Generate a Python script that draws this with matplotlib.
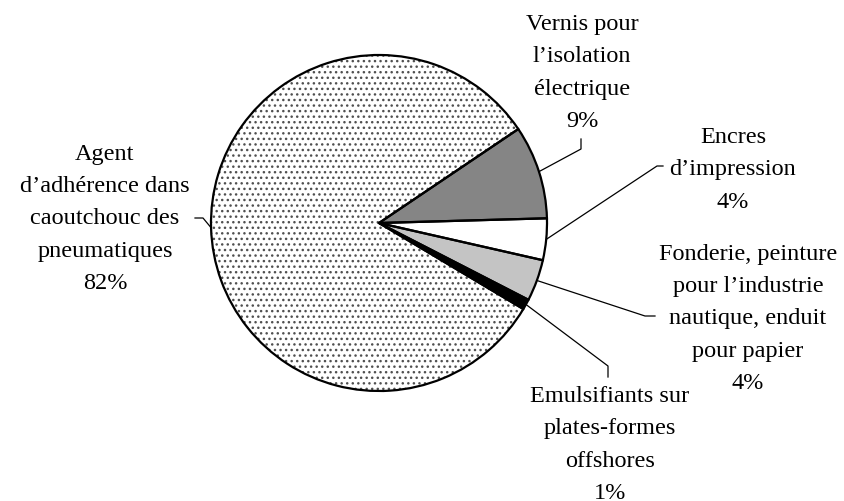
import numpy as np
import matplotlib
matplotlib.use('Agg')
import matplotlib.pyplot as plt

# Data (shares in %)
labels = ["Vernis pour\nl\u2019isolation\n\u00e9lectrique\n9%",
          "Encres\nd\u2019impression\n4%",
          "Fonderie, peinture\npour l\u2019industrie\nnautique, enduit\npour papier\n4%",
          "Emulsifiants sur\nplates-formes\noffshores\n1%",
          "Agent\nd\u2019adh\u00e9rence dans\ncaoutchouc des\npneumatiques\n82%"]
values = [9, 4, 4, 1, 82]
colors = ['#858585', 'white', '#c4c4c4', 'black', 'white']
hatches = [None, None, None, None, '...']

W, H = 845, 502
fig = plt.figure(figsize=(W / 100, H / 100), dpi=100)
ax = fig.add_axes([0, 0, 1, 1])

plt.rcParams['hatch.linewidth'] = 1.0
cx, cy, r = 379, H - 224, 168

wedges, _ = ax.pie(values, colors=colors, startangle=34, counterclock=False,
                   center=(cx, cy), radius=r, frame=True,
                   wedgeprops=dict(linewidth=0))
for w, h in zip(wedges, hatches):
    if h:
        w.set_hatch(h)
        w.set_edgecolor('#505050')
# outlines
ax.pie(values, startangle=34, counterclock=False, center=(cx, cy),
       radius=r, frame=True,
       wedgeprops=dict(fill=False, edgecolor='black', linewidth=1.6))
ax.set_xlim(0, W)
ax.set_ylim(0, H)
ax.set_aspect('equal')
ax.axis('off')

# label positions (image px) and leader elbows
text_pos = [(582, 73), (733, 170), (748, 319), (610, 445), (105, 219)]
elbows = [[(581, 150), (581, 140)],
          [(657, 167), (663, 167)],
          [(645, 317), (655, 317)],
          [(608, 367), (608, 378)],
          [(203, 219), (195, 219)]]

for w, lab, (tx, ty), el in zip(wedges, labels, text_pos, elbows):
    ang = np.deg2rad((w.theta1 + w.theta2) / 2)
    x0 = cx + r * np.cos(ang)
    y0 = cy + r * np.sin(ang)
    xs = [x0] + [p[0] for p in el]
    ys = [y0] + [H - p[1] for p in el]
    ax.plot(xs, ys, color='black', lw=0.9)
    ax.text(tx, H - ty, lab, ha='center', va='center', fontsize=17.5,
            family='Liberation Serif', linespacing=1.69)

fig.savefig('out.png', dpi=100)
